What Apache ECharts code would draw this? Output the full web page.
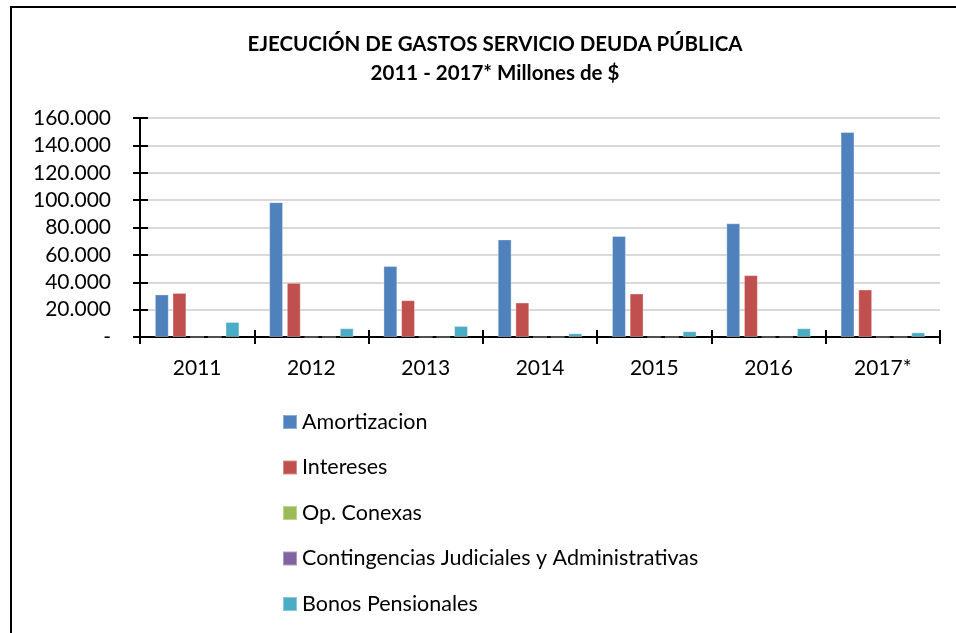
<!DOCTYPE html>
<html>
<head>
<meta charset="utf-8">
<script src="https://cdn.jsdelivr.net/npm/echarts@6/dist/echarts.min.js"></script>
<style>
  html, body { margin: 0; padding: 0; background: #fff; }
  #chart { width: 956px; height: 633px; }
</style>
</head>
<body>
<div id="chart"></div>
<script>
// datos (millones de $)
const years = ["2011", "2012", "2013", "2014", "2015", "2016", "2017*"]
const amortizacion = [31100, 98500, 51800, 71300, 73800, 83100, 149700]
const intereses = [32200, 39600, 26900, 25200, 31800, 45200, 34700]
const opConexas = [0, 0, 0, 0, 0, 0, 0]
const contingencias = [0, 0, 0, 0, 0, 0, 0]
const bonosPensionales = [11000, 6400, 8100, 2700, 4200, 6400, 3400]

const seriesNames = ["Amortizacion", "Intereses", "Op. Conexas", "Contingencias Judiciales y Administrativas", "Bonos Pensionales"]
const colors = ["#4f81bd", "#c0504d", "#9bbb59", "#8064a2", "#4bacc6"]

const font = "Lato, 'Open Sans', sans-serif"

function fmtMiles(v) {
    if (v === 0) return "-"
    // separador de miles con punto
    return String(v).replace(/\B(?=(\d{3})+(?!\d))/g, ".")
}

const chart = echarts.init(document.getElementById("chart"), null, { renderer: "canvas" })

const dataList = [amortizacion, intereses, opConexas, contingencias, bonosPensionales]

const option = {
    animation: false,
    textStyle: { fontFamily: font },
    color: colors,
    title: {
        text: "EJECUCIÓN DE GASTOS SERVICIO DEUDA PÚBLICA\n2011 - 2017* Millones de $",
        left: 490,
        textAlign: "center",
        top: 25,
        textStyle: {
            fontSize: 20.5,
            fontWeight: "bold",
            color: "#000",
            lineHeight: 29,
            fontFamily: font
        }
    },
    // marco exterior
    graphic: [{
        type: "rect",
        shape: { x: 11, y: 7, width: 970, height: 660 },
        style: { fill: null, stroke: "#000", lineWidth: 2 },
        silent: true
    }],
    legend: {
        orient: "vertical",
        left: 282,
        top: 411,
        height: 220,
        padding: 0,
        itemWidth: 14,
        itemHeight: 14,
        itemGap: 23.5,
        icon: "rect",
        data: seriesNames,
        textStyle: { fontSize: 21.5, lineHeight: 20, color: "#000", fontFamily: font }
    },
    grid: {
        left: 140,
        right: 16,
        top: 118,
        bottom: 296
    },
    xAxis: [{
        type: "category",
        data: years,
        axisLine: { lineStyle: { color: "#000", width: 2 } },
        axisTick: { show: true, length: 7, lineStyle: { color: "#000", width: 2 } },
        axisLabel: { fontSize: 21, color: "#000", margin: 21, fontFamily: font },
        splitLine: { show: false }
    }, {
        // eje duplicado para marcas cruzadas
        type: "category",
        data: years,
        position: "bottom",
        axisLine: { show: false },
        axisTick: { show: true, inside: true, length: 7, lineStyle: { color: "#000", width: 2 } },
        axisLabel: { show: false },
        splitLine: { show: false }
    }],
    yAxis: [{
        type: "value",
        min: 0,
        max: 160000,
        interval: 20000,
        axisLine: { show: true, lineStyle: { color: "#000", width: 2 } },
        axisTick: { show: true, length: 7, lineStyle: { color: "#000", width: 2 } },
        axisLabel: { fontSize: 21, color: "#000", margin: 29, formatter: fmtMiles, fontFamily: font },
        splitLine: { show: true, lineStyle: { color: "#d9d9d9", width: 2 } }
    }, {
        type: "value",
        min: 0,
        max: 160000,
        interval: 20000,
        position: "left",
        axisLine: { show: false },
        axisTick: { show: true, inside: true, length: 8, lineStyle: { color: "#000", width: 2 } },
        axisLabel: { show: false },
        splitLine: { show: false }
    }],
    series: seriesNames.map((name, i) => ({
        name: name,
        type: "bar",
        data: dataList[i],
        barGap: "27%",
        barCategoryGap: "26%",
        itemStyle: {
            color: colors[i],
            borderColor: "rgba(255,255,255,0.35)",
            borderWidth: 1
        }
    }))
}

chart.setOption(option)
</script>
</body>
</html>
